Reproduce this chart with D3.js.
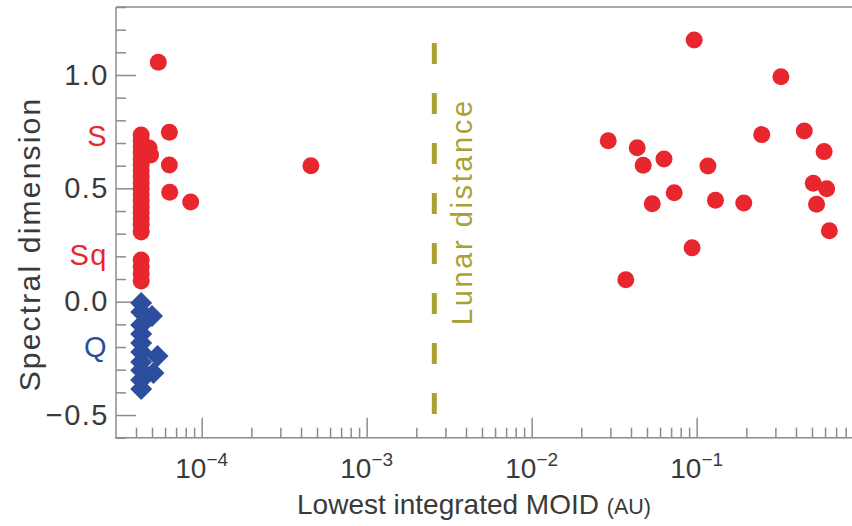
<!DOCTYPE html>
<html><head><meta charset="utf-8">
<script src="https://cdn.jsdelivr.net/npm/d3@7"></script>
<style>body{margin:0;background:#fff} text{font-family:"Liberation Sans",Arial,sans-serif}</style>
</head><body><svg id="c" width="852" height="526"></svg>
<script>
// ---- data ----
const sMoid = [5.46e-5,4.3e-5,6.37e-5,4.8e-5,4.9e-5,6.37e-5,6.4e-5,8.58e-5,
  4.3e-5,4.3e-5,4.3e-5,4.3e-5,4.3e-5,4.3e-5,4.3e-5,4.3e-5,4.3e-5,4.3e-5,4.3e-5,4.3e-5,4.3e-5,4.3e-5,4.3e-5,4.3e-5,
  4.3e-5,4.3e-5,4.3e-5,4.3e-5,
  4.59e-4,
  0.0966,0.324,0.0291,0.0436,0.0474,0.0634,0.117,0.248,0.449,0.592,0.509,0.614,0.533,0.637,0.0731,0.0538,0.130,0.193,0.0938,0.0372];
const sDim = [1.056,0.735,0.747,0.678,0.647,0.603,0.483,0.440,
  0.709,0.682,0.656,0.629,0.603,0.577,0.550,0.524,0.497,0.471,0.444,0.418,0.391,0.365,0.338,0.307,
  0.184,0.153,0.122,0.091,
  0.600,
  1.154,0.992,0.710,0.679,0.602,0.629,0.599,0.737,0.753,0.662,0.522,0.498,0.430,0.313,0.481,0.432,0.447,0.435,0.238,0.097];
const qMoid = [4.3e-5,4.3e-5,5.0e-5,4.3e-5,4.3e-5,4.3e-5,4.3e-5,5.4e-5,4.3e-5,4.3e-5,5.1e-5,4.3e-5,4.3e-5];
const qDim = [-0.006,-0.046,-0.063,-0.103,-0.142,-0.182,-0.222,-0.240,-0.266,-0.302,-0.315,-0.346,-0.385];
const lunarDistance = 0.00257;
const yMajorTicks = [-0.5, 0, 0.5, 1.0];
const yMajorLabels = ["\u22120.5", "0.0", "0.5", "1.0"];
const typeLabels = ["S", "Sq", "Q"];
const typeDims = [0.73, 0.205, -0.2];
const typeColors = ["#e8262d", "#e8262d", "#2d4e9e"];
const xDecades = [1e-4, 1e-3, 1e-2, 1e-1];
const xDecadeExps = ["\u22124", "\u22123", "\u22122", "\u22121"];

// ---- layout ----
const svg = d3.select("#c");
const x = d3.scaleLog().domain([3e-5, 0.88]).range([115.4, 852.5]);
const y = d3.scaleLinear().domain([-0.6, 1.3]).range([437.7, 7]);
const axisCol = "#8c8c8c";
const red = "#e8262d", blue = "#2d4e9e", olive = "#a9a132";
const txtCol = "#3a3a3a";

svg.append("line").attr("x1", 116).attr("x2", 852).attr("y1", y(1.3)).attr("y2", y(1.3))
  .attr("stroke", axisCol).attr("stroke-width", 1.5);

const yMinor = d3.range(-6, 14).map(i => +(i / 10).toFixed(1)).filter(v => !yMajorTicks.includes(v));
const gy = svg.append("g").attr("transform", "translate(116,0)");
gy.call(d3.axisLeft(y).tickValues(yMinor).tickSize(-10).tickFormat(""));
gy.select(".domain").remove();
const gy2 = svg.append("g").attr("transform", "translate(116,0)");
gy2.call(d3.axisLeft(y).tickValues(yMajorTicks).tickSize(-20).tickPadding(7)
  .tickFormat((d, i) => yMajorLabels[i]));
gy2.select(".domain").remove();
[gy, gy2].forEach(g => g.selectAll("line").attr("stroke", axisCol).attr("stroke-width", 1.5));
gy2.selectAll("text").attr("font-size", 29).attr("fill", txtCol).attr("letter-spacing", 1.5)
  .style("font-family", '"Liberation Sans",Arial,sans-serif');
svg.append("line").attr("x1", 116).attr("x2", 116).attr("y1", y(1.3)).attr("y2", y(-0.6))
  .attr("stroke", axisCol).attr("stroke-width", 1.5);

const allTicks = x.ticks(30).filter(t => t > 3.1e-5);
const xMinor = allTicks.filter(t => !xDecades.some(d => Math.abs(d - t) / d < 1e-6));
const gx = svg.append("g").attr("transform", `translate(0,${y(-0.6)})`);
gx.call(d3.axisBottom(x).tickValues(xMinor).tickSize(-10).tickFormat(""));
gx.select(".domain").remove();
const gx2 = svg.append("g").attr("transform", `translate(0,${y(-0.6)})`);
gx2.call(d3.axisBottom(x).tickValues(xDecades).tickSize(-20).tickFormat(""));
gx2.select(".domain").remove();
[gx, gx2].forEach(g => g.selectAll("line").attr("stroke", axisCol).attr("stroke-width", 1.5));
svg.append("line").attr("x1", 115).attr("x2", 852).attr("y1", y(-0.6)).attr("y2", y(-0.6))
  .attr("stroke", axisCol).attr("stroke-width", 1.5);

xDecades.forEach((d, i) => {
  const t = svg.append("text").attr("x", x(d)).attr("y", 478).attr("text-anchor", "middle")
    .attr("font-size", 28).attr("fill", txtCol);
  t.append("tspan").text("10");
  t.append("tspan").text(xDecadeExps[i]).attr("font-size", 19).attr("dy", -12);
});

typeLabels.forEach((l, i) => {
  svg.append("text").attr("x", 108).attr("y", y(typeDims[i])).attr("dy", "0.35em")
    .attr("text-anchor", "end").attr("font-size", 29).attr("letter-spacing", 1.5)
    .attr("fill", typeColors[i]).text(l);
});

svg.append("text").attr("transform", "translate(40,244) rotate(-90)").attr("text-anchor", "middle")
  .attr("font-size", 30).attr("letter-spacing", 2.2).attr("fill", txtCol).text("Spectral dimension");
const xt = svg.append("text").attr("x", 474).attr("y", 514).attr("text-anchor", "middle")
  .attr("font-size", 28).attr("fill", txtCol);
xt.append("tspan").text("Lowest integrated MOID ");
xt.append("tspan").text("(AU)").attr("font-size", 21.5);

svg.append("line").attr("x1", x(lunarDistance)).attr("x2", x(lunarDistance))
  .attr("y1", 43).attr("y2", 415).attr("stroke", olive).attr("stroke-width", 5)
  .attr("stroke-dasharray", "21,29");
svg.append("text").attr("transform", `translate(${x(lunarDistance) + 38},325) rotate(-90)`)
  .attr("font-size", 29).attr("letter-spacing", 2.6).attr("fill", olive).text("Lunar distance");

svg.append("g").selectAll("circle").data(sMoid).join("circle")
  .attr("cx", d => x(d)).attr("cy", (d, i) => y(sDim[i])).attr("r", 8.5).attr("fill", red);
const h = 11;
svg.append("g").selectAll("path").data(qMoid).join("path")
  .attr("d", `M0,${-h}L${h},0L0,${h}L${-h},0Z`)
  .attr("transform", (d, i) => `translate(${x(d)},${y(qDim[i])})`).attr("fill", blue);
</script></body></html>
